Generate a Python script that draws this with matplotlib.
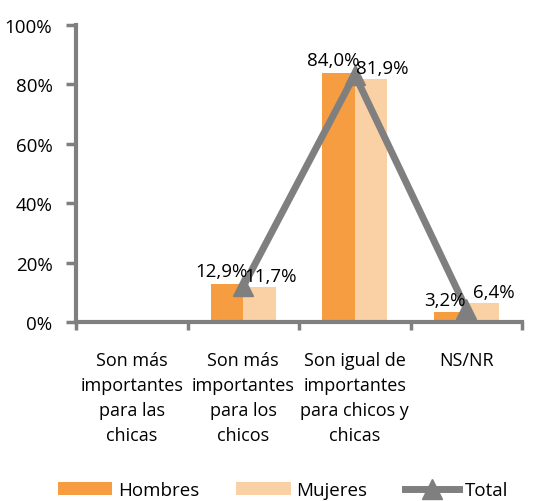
import numpy as np
import matplotlib.pyplot as plt

plt.rcParams['font.family'] = ['Open Sans', 'DejaVu Sans']

# datos
categorias = ['Son más\nimportantes\npara las\nchicas',
              'Son más\nimportantes\npara los\nchicos',
              'Son igual de\nimportantes\npara chicos y\nchicas',
              'NS/NR']
hombres = [0.0, 12.9, 84.0, 3.2]
mujeres = [0.0, 11.7, 81.9, 6.4]
total = [np.nan, 12.0, 83.3, 4.5]
etiq_h = ['', '12,9%', '84,0%', '3,2%']
etiq_m = ['', '11,7%', '81,9%', '6,4%']

fig = plt.figure(figsize=(5.39, 5.02), dpi=100)
ax = fig.add_axes([76 / 539, 1 - 323 / 502, 446 / 539, 297 / 502])

x = np.arange(len(categorias))
w = 0.29
b1 = ax.bar(x - w / 2, hombres, w, color='#F59D40', label='Hombres')
b2 = ax.bar(x + w / 2, mujeres, w, color='#FAD0A5', label='Mujeres')
l1, = ax.plot(x, total, color='#7F7F7F', lw=5, marker='^', ms=15, label='Total')

for i in range(len(x)):
    if etiq_h[i]:
        ax.text(x[i] - w / 2 - 0.05, hombres[i] + 1.2, etiq_h[i], ha='center', va='bottom', fontsize=13.5)
        ax.text(x[i] + w / 2 + 0.1, mujeres[i] + 0.6, etiq_m[i], ha='center', va='bottom', fontsize=13.5)

ax.set_xlim(-0.5, 3.5)
ax.set_ylim(0, 100)
ax.set_yticks(np.arange(0, 101, 20))
ax.set_yticklabels([f'{v}%' for v in range(0, 101, 20)], fontsize=13.5)
ax.set_xticks(np.arange(-0.5, 4, 1))
ax.set_xticklabels([])
ax.set_xticks(x, minor=True)
ax.set_xticklabels(categorias, minor=True, fontsize=13, linespacing=1.5)
ax.tick_params(axis='x', which='minor', length=0, pad=21)
ax.tick_params(axis='x', which='major', length=6, width=2.5, color='#7F7F7F', direction='out')
ax.tick_params(axis='y', length=7, width=2.5, color='#7F7F7F', pad=10)

for s in ['top', 'right']:
    ax.spines[s].set_visible(False)
for s in ['left', 'bottom']:
    ax.spines[s].set_color('#7F7F7F')
    ax.spines[s].set_linewidth(3)

fig.legend(handles=[b1, b2, l1], loc='lower center', bbox_to_anchor=(0.525, -0.03), ncol=3, frameon=False,
           fontsize=13.5, handlelength=2.9, columnspacing=2.0, handletextpad=0.3)

fig.savefig('out.png', dpi=100)
